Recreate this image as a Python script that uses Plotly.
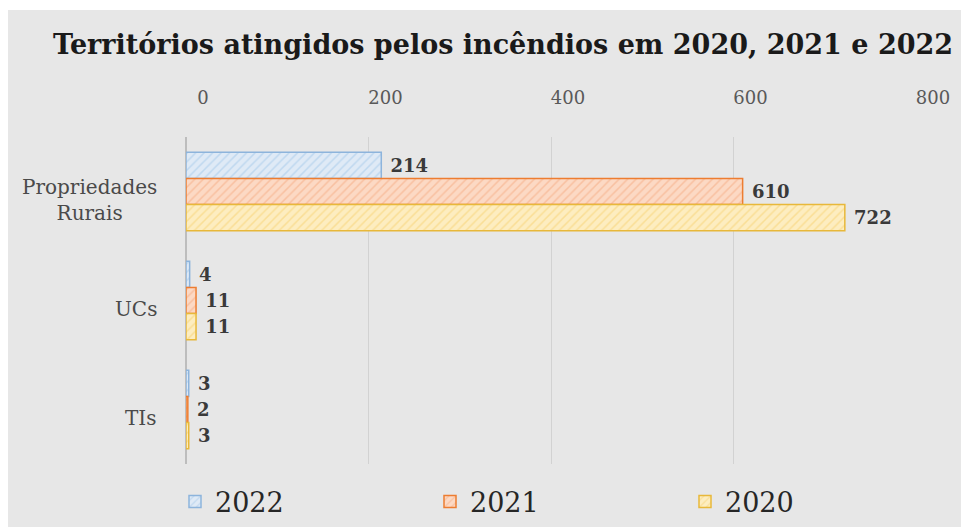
import plotly.graph_objects as go

categories = ["Propriedades<br>Rurais", "UCs", "TIs"]
years = ["2022", "2021", "2020"]
values_2022 = [214, 4, 3]
values_2021 = [610, 11, 2]
values_2020 = [722, 11, 3]
tick_vals = [0, 200, 400, 600, 800]

series = [values_2022, values_2021, values_2020]
styles = [
    dict(bg="#dfeaf6", fg="#9fc5e8", line="#8db4dc"),
    dict(bg="#fcd9c4", fg="#f4a77c", line="#ed7d31"),
    dict(bg="#fdedc0", fg="#f5cf6a", line="#e8b83a"),
]

W, H = 961, 527
ML, MR, MT, MB = 186, 45, 137, 63
PW, PH = W - ML - MR, H - MT - MB

fig = go.Figure()
for name, vals, st in zip(years, series, styles):
    fig.add_trace(go.Bar(
        y=categories, x=vals, name=name, orientation="h",
        marker=dict(color=st["bg"], line=dict(color=st["line"], width=1.5),
                    pattern=dict(shape="/", fgcolor=st["fg"], bgcolor=st["bg"],
                                 size=6, solidity=0.25, fillmode="overlay")),
        text=vals, texttemplate=" %{text}", textposition="outside", cliponaxis=False,
        textfont=dict(family="DejaVu Serif", size=18, color="#3a3a3a", weight="bold"),
    ))

def px_x(x):
    return (x - ML) / PW

def px_y(y):
    return (H - MB - y) / PH

shapes = [
    dict(type="rect", xref="paper", yref="paper", x0=px_x(0), x1=px_x(W),
         y0=px_y(10), y1=px_y(0), fillcolor="white", line=dict(width=0), layer="below"),
    dict(type="rect", xref="paper", yref="paper", x0=px_x(0), x1=px_x(8),
         y0=px_y(H), y1=px_y(0), fillcolor="white", line=dict(width=0), layer="below"),
]

annotations = []
for c in categories:
    annotations.append(dict(x=px_x(159), xref="paper", y=c, yref="y", text=c,
                            showarrow=False, xanchor="right", align="center", yshift=-8,
                            font=dict(family="DejaVu Serif", size=20, color="#4a4a4a")))

fig.update_layout(
    width=W, height=H,
    margin=dict(l=ML, r=MR, t=MT, b=MB, autoexpand=False),
    paper_bgcolor="#e7e7e7", plot_bgcolor="rgba(0,0,0,0)",
    title=dict(text="<b>Territórios atingidos pelos incêndios em 2020, 2021 e 2022</b>",
               x=503 / W, xref="container", xanchor="center", y=1 - 45 / H, yanchor="middle",
               font=dict(family="DejaVu Serif", size=27, color="#1a1a1a")),
    barmode="group", bargap=0.28, bargroupgap=0,
    xaxis=dict(side="top", range=[0, 800], tickvals=tick_vals, showgrid=True,
               gridcolor="#d2d2d2", gridwidth=1, zeroline=True, zerolinecolor="#bdbdbd",
               zerolinewidth=1.5,
               tickfont=dict(family="DejaVu Serif", size=18, color="#595959"),
               ticks="", ticklabelstandoff=28, ticklabelshift=17, fixedrange=True),
    yaxis=dict(autorange="reversed", showticklabels=False, showgrid=False,
               zeroline=False, showline=False, fixedrange=True),
    legend=dict(orientation="h", xref="paper", yref="paper",
                x=px_x(175), xanchor="left", y=px_y(502), yanchor="middle",
                font=dict(family="DejaVu Serif", size=27, color="#262626"),
                entrywidth=210, entrywidthmode="pixels", itemwidth=30,
                bgcolor="rgba(0,0,0,0)", traceorder="normal"),
    shapes=shapes, annotations=annotations,
)

fig.write_html("out.html", config={"displayModeBar": False},
               post_script="document.body.style.margin='0';")
